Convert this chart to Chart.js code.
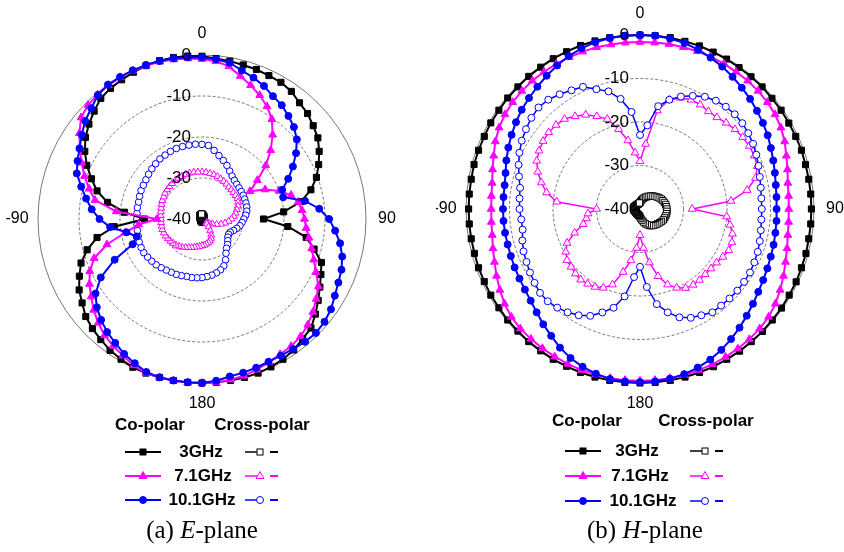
<!DOCTYPE html>
<html>
<head>
<meta charset="utf-8">
<script src="https://cdn.jsdelivr.net/npm/chart.js@4.4.0/dist/chart.umd.min.js"></script>
<style>
  body { margin: 0; background: #fff; width: 844px; height: 552px; position: relative; overflow: hidden;
         font-family: "Liberation Sans", Arial, sans-serif; }
  canvas { position: absolute; }
  #eChart { left: 0px; top: 25px; }
  #hChart { left: 436px; top: 5px; }
  #legendSvg { position: absolute; left: 0; top: 0; }
  .lbl { position: absolute; transform: translate(-50%, -50%); white-space: nowrap; font-weight: bold; font-size: 17px; color: #000; }
  .cap { position: absolute; transform: translate(-50%, -50%); white-space: nowrap; font-size: 25px;
         font-family: "Liberation Serif", "Times New Roman", serif; }
</style>
</head>
<body>
<canvas id="eChart" width="396" height="388"></canvas>
<canvas id="hChart" width="408" height="408"></canvas>
<svg id="legendSvg" width="844" height="552"></svg>

<div class="lbl" style="left:150px;top:425px">Co-polar</div>
<div class="lbl" style="left:262px;top:425px">Cross-polar</div>
<div class="lbl" style="left:201px;top:452px">3GHz</div>
<div class="lbl" style="left:203px;top:476px">7.1GHz</div>
<div class="lbl" style="left:202px;top:500px">10.1GHz</div>
<div class="cap" style="left:202px;top:530px">(a) <i>E</i>-plane</div>

<div class="lbl" style="left:587px;top:421px">Co-polar</div>
<div class="lbl" style="left:706px;top:421px">Cross-polar</div>
<div class="lbl" style="left:637px;top:451px">3GHz</div>
<div class="lbl" style="left:640px;top:476px">7.1GHz</div>
<div class="lbl" style="left:643px;top:501px">10.1GHz</div>
<div class="cap" style="left:645px;top:530px">(b) <i>H</i>-plane</div>

<script>
// Angles (degrees, clockwise from top), one point every 5 degrees
const angles = ['0','5','10','15','20','25','30','35','40','45','50','55','60','65','70','75','80','85',
  '90','95','100','105','110','115','120','125','130','135','140','145','150','155','160','165','170','175',
  '180','185','190','195','200','205','210','215','220','225','230','235','240','245','250','255','260','265',
  '270','275','280','285','290','295','300','305','310','315','320','325','330','335','340','345','350','355'];

const tickValues = [0, -10, -20, -30, -40];
const angleTexts = ['0', '90', '180', '-90'];
const angleTextAt = ['0', '90', '180', '270'];

// E-plane, co-polar (dB)
const e3Co = [-0.3,-0.7,-0.9,-1.1,-1.2,-1.4,-1.5,-2.0,-3.0,-3.6,-4.6,-5.5,-7.0,-8.6,-10.3,-12.5,-15.5,-20,
  -25,-19,-14.2,-11.7,-9.0,-8.0,-6.8,-5.4,-3.9,-2.4,-1.8,-1.0,-0.5,-0.2,0,0,0,0,
  0,0,0,0,0,-0.1,-0.5,-0.9,-1.6,-2.2,-3.0,-4.3,-5.4,-7.0,-8.6,-11,-14,-18.5,
  -26,-21,-16.6,-13.5,-11.3,-9.0,-7.0,-5.3,-4.0,-2.8,-1.6,-1.1,-0.8,-0.5,-0.2,0,0,-0.1];
const e7Co = [-1.0,-1.4,-2.2,-3.9,-5.3,-6.7,-8.3,-10.3,-13.2,-16.3,-19.7,-23.5,-26.5,-23,-20,-17.5,-16.2,-15.5,
  -15,-14.5,-13.5,-12.3,-11,-9.3,-7.2,-6.0,-4.7,-3.5,-2.6,-2.1,-1.9,-1.4,-0.9,-0.4,-0.2,0,
  0,0,0,0,0,-0.6,-1.5,-2.2,-3.0,-4.2,-5.5,-7.0,-8.3,-9.8,-12,-16,-21,-24.5,
  -29,-19,-13.5,-11.5,-9.5,-7.6,-5.6,-3.5,-1.5,-0.7,-0.4,-0.2,-0.1,-0.1,-0.2,-0.3,-0.5,-0.7];
const e10Co = [-0.6,-0.9,-1.3,-2.5,-3.3,-4.2,-5.4,-6.1,-7.2,-8.3,-9.8,-12,-14.4,-16.8,-19.2,-19.5,-14.5,-11.3,
  -9.0,-7.4,-5.8,-4.6,-3.8,-3.3,-2.6,-1.6,-1.0,-0.7,-0.9,-1.3,-1.5,-1.6,-1.4,-1.2,-1.0,-0.4,
  0,0,0,0,-0.3,-1.2,-2.0,-3.1,-4.0,-5.2,-6.5,-8.3,-11.5,-16.5,-22,-23.5,-21.3,-17.5,
  -15,-13,-11.3,-9.5,-7.5,-6.5,-5.5,-4.2,-2.8,-1.8,-0.5,0,0,0,0,-0.1,-0.2,-0.4];

// E-plane, cross-polar (dB)
const e3X = [-38.8,-38.9,-39.0,-39.0,-39.1,-39.2,-39.2,-39.3,-39.4,-39.4,-39.5,-39.5,-39.5,-39.6,-39.6,-39.6,-39.7,-39.7,
  -39.7,-39.7,-39.7,-39.7,-39.6,-39.6,-39.6,-39.5,-39.5,-39.5,-39.4,-39.4,-39.4,-39.3,-39.3,-39.3,-39.3,-39.3,
  -39.3,-39.3,-39.4,-39.4,-39.5,-39.5,-39.6,-39.6,-39.7,-39.7,-39.8,-39.8,-39.8,-39.8,-39.8,-39.8,-39.8,-39.8,
  -39.8,-39.8,-39.7,-39.7,-39.6,-39.6,-39.5,-39.5,-39.4,-39.3,-39.2,-39.1,-39.0,-39.0,-38.9,-38.9,-38.8,-38.8];
const e7X = [-28.5,-28.6,-28.7,-28.8,-29,-29.2,-29.4,-29.6,-29.8,-29.9,-30,-30,-30,-30.3,-30.7,-31.2,-31.7,-32.2,
  -32.8,-33.5,-34.3,-35.2,-36.2,-37.2,-38,-38.5,-38.6,-38.3,-37.5,-36.5,-35.5,-34.8,-34.3,-34,-33.8,-33.6,
  -33.5,-33.3,-33.1,-32.9,-32.6,-32.3,-32,-31.6,-31.3,-31,-30.8,-30.6,-30.4,-30.2,-30.1,-30,-30,-30,
  -30,-29.9,-29.8,-29.7,-29.5,-29.3,-29.2,-29,-28.9,-28.8,-28.7,-28.6,-28.5,-28.5,-28.4,-28.4,-28.4,-28.5];
const e10X = [-21.8,-22,-23,-24,-24.8,-25.6,-26.5,-27.2,-27.7,-28,-28.2,-28.3,-28.4,-28.5,-28.6,-28.7,-28.9,-29.3,
  -29.8,-30.2,-30.6,-31.2,-31.8,-32.4,-32.5,-32.3,-31.8,-31.2,-30.7,-29.8,-28.5,-27.4,-26.8,-26.4,-26.1,-25.9,
  -25.7,-25.6,-25.5,-25.5,-25.3,-25.1,-25,-24.8,-24.5,-24.2,-24,-23.8,-23.6,-23.6,-23.7,-23.9,-24,-24.1,
  -24.1,-24.1,-24,-24,-23.8,-23.6,-23.5,-23.3,-23,-22.7,-22.4,-22.1,-22,-21.8,-21.7,-21.7,-21.7,-21.7];

// H-plane, co-polar (dB)
const h3Co = [0,0,0,-0.1,-0.1,-0.2,-0.2,-0.3,-0.3,-0.3,-0.4,-0.4,-0.5,-0.5,-0.5,-0.6,-0.6,-0.6,
  -0.6,-0.6,-0.6,-0.5,-0.5,-0.4,-0.4,-0.3,-0.3,-0.2,-0.2,-0.1,-0.1,0,0,0,0,0,
  0,0,0,0,0,-0.1,-0.1,-0.2,-0.2,-0.3,-0.3,-0.4,-0.4,-0.5,-0.5,-0.6,-0.6,-0.6,
  -0.6,-0.6,-0.6,-0.5,-0.5,-0.5,-0.4,-0.4,-0.3,-0.3,-0.2,-0.2,-0.1,-0.1,0,0,0,0];
const h7Co = [-1.6,-1.6,-1.5,-1.5,-1.4,-1.4,-1.4,-1.5,-1.5,-1.6,-1.8,-2.1,-2.6,-3.3,-4.2,-4.9,-5.5,-5.7,
  -5.8,-5.7,-5.5,-5.0,-4.4,-3.6,-2.8,-2.0,-1.4,-1.1,-0.9,-0.8,-0.7,-0.6,-0.6,-0.5,-0.5,-0.5,
  -0.5,-0.5,-0.5,-0.6,-0.6,-0.7,-0.8,-0.9,-1.0,-1.1,-1.4,-2.0,-2.8,-3.6,-4.4,-5.0,-5.5,-5.7,
  -5.8,-5.7,-5.5,-4.9,-4.2,-3.3,-2.6,-2.1,-1.8,-1.6,-1.5,-1.5,-1.5,-1.5,-1.5,-1.5,-1.6,-1.6];
const h10Co = [0,0,-0.2,-0.5,-1.0,-1.6,-2.2,-2.9,-3.6,-4.2,-4.9,-5.5,-6.1,-6.8,-7.4,-7.9,-8.3,-8.5,
  -8.6,-8.5,-8.4,-8.2,-8.0,-7.7,-7.3,-6.8,-6.1,-5.3,-4.4,-3.5,-2.6,-1.8,-1.2,-0.7,-0.4,-0.2,
  -0.2,-0.2,-0.3,-0.8,-1.4,-2.2,-3.2,-4.4,-5.4,-6.4,-7.2,-7.7,-8.0,-8.2,-8.4,-8.5,-8.5,-8.5,
  -8.5,-8.5,-8.4,-8.0,-7.3,-6.6,-5.9,-5.2,-4.5,-3.9,-3.3,-2.6,-1.9,-1.2,-0.7,-0.3,-0.1,0];

// H-plane, cross-polar (dB)
const h3X = [-38.5,-38.2,-37.9,-37.6,-37.3,-37,-36.7,-36.4,-36.1,-35.8,-35.5,-35.2,-34.9,-34.6,-34.4,-34.2,-34,-33.9,
  -33.8,-33.8,-33.8,-33.9,-34,-34.1,-34.3,-34.5,-34.7,-34.9,-35.1,-35.3,-35.6,-36,-36.4,-36.9,-37.4,-37.8,
  -38.2,-38.4,-38.5,-38.6,-38.6,-38.7,-38.7,-38.7,-38.8,-38.8,-38.8,-38.8,-38.8,-38.8,-38.7,-38.7,-38.6,-38.6,
  -38.5,-38.5,-38.5,-38.5,-38.6,-38.6,-38.7,-38.7,-38.8,-38.8,-38.8,-38.8,-38.8,-38.8,-38.8,-38.7,-38.7,-38.6];
const h7X = [-29,-25,-17,-14,-12.8,-12.3,-12.3,-12.6,-12.5,-12,-11.5,-11.2,-11,-11,-11.3,-12.5,-15,-19,
  -28,-20,-19,-18,-17.5,-17.5,-18,-18.5,-18.7,-18.8,-18.7,-18.7,-19,-20,-21.5,-24,-27.5,-31,
  -34,-31,-28,-25,-21.5,-20,-19.3,-19,-18.8,-19,-19.3,-19.5,-20.3,-21.5,-24,-26.5,-27.5,-28,
  -30,-20.8,-18.2,-16.5,-15,-13.8,-13.2,-12.8,-12.6,-12.7,-13,-14,-15,-16.5,-18,-21,-24,-27];
const h10X = [-23,-20.7,-16,-14,-12.5,-11.3,-10.2,-9.6,-9.3,-9.2,-9.3,-9.6,-10,-10.5,-11,-11.5,-11.8,-12,
  -12,-12,-11.8,-11.5,-11.2,-11,-10.8,-10.8,-10.8,-10.9,-11,-11,-11.8,-12.4,-13.5,-15.4,-17.8,-22,
  -26.7,-24.3,-19.6,-16.5,-14.7,-12.9,-11.8,-11,-10.4,-10,-10,-10.4,-10.8,-11.2,-11.5,-12,-12.6,-12.6,
  -12.3,-12.2,-12,-11.2,-10.3,-9.4,-8.6,-8,-7.4,-7,-7.2,-7.8,-8.5,-9,-10.7,-12,-14.3,-17.6];

const BLACK = '#000000';
const MAGENTA = '#ff00ff';
const BLUE = '#0000ff';

// Style d'une courbe co-polaire (symbole plein)
function coSet(data, color, style, radius) {
    return {
        data: data, borderColor: color, backgroundColor: color, borderWidth: 2, fill: false,
        pointStyle: style, pointRadius: radius, pointBackgroundColor: color, pointBorderColor: color, pointBorderWidth: 1
    };
}

// Style d'une courbe cross-polaire (symbole vide)
function crossSet(data, color, style, radius) {
    return {
        data: data, borderColor: color, backgroundColor: color, borderWidth: 1.5, fill: false,
        pointStyle: style, pointRadius: radius, pointBackgroundColor: '#ffffff', pointBorderColor: color, pointBorderWidth: 1
    };
}

// Textes des cercles (dB) et des angles
const polarLabels = {
    id: 'polarLabels',
    afterDatasetsDraw(chart) {
        const r = chart.scales.r;
        const ctx = chart.ctx;
        ctx.save();
        ctx.fillStyle = '#000';
        ctx.font = '17px "Liberation Sans", Arial, sans-serif';
        ctx.textAlign = 'right';
        ctx.textBaseline = 'middle';
        tickValues.forEach(v => {
            ctx.fillText(String(v), r.xCenter - 11, r.yCenter - r.getDistanceFromCenterForValue(v));
        });
        ctx.font = '16px "Liberation Sans", Arial, sans-serif';
        ctx.textAlign = 'center';
        angleTexts.forEach((txt, i) => {
            const pos = r.getPointPosition(angles.indexOf(angleTextAt[i]), r.drawingArea + 21);
            ctx.fillText(txt, pos.x, pos.y);
        });
        ctx.restore();
    }
};

function makePolar(id, datasets, padding) {
    const ctx = document.getElementById(id).getContext('2d');
    return new Chart(ctx, {
        type: 'radar',
        data: { labels: angles, datasets: datasets },
        options: {
            responsive: false,
            animation: false,
            layout: { padding: padding },
            elements: { line: { tension: 0 } },
            plugins: { legend: { display: false }, tooltip: { enabled: false } },
            scales: {
                r: {
                    min: -40, max: 0,
                    ticks: { stepSize: 10, display: false },
                    angleLines: { display: false },
                    pointLabels: { display: false },
                    grid: { circular: true, color: '#555', lineWidth: 0.8 },
                    border: { dash: c => (c.tick && c.tick.value === 0) ? [] : [3, 2] }
                }
            }
        },
        plugins: [polarLabels]
    });
}

makePolar('eChart', [
    coSet(e10Co, BLUE, 'circle', 3.5),
    coSet(e7Co, MAGENTA, 'triangle', 4.5),
    coSet(e3Co, BLACK, 'rect', 4.3),
    crossSet(e10X, BLUE, 'circle', 3.3),
    crossSet(e7X, MAGENTA, 'triangle', 4),
    crossSet(e3X, BLACK, 'rect', 4.5)
], { left: 38, right: 30, top: 30, bottom: 30 });

makePolar('hChart', [
    coSet(h10Co, BLUE, 'circle', 3.5),
    coSet(h7Co, MAGENTA, 'triangle', 4.5),
    coSet(h3Co, BLACK, 'rect', 4.3),
    crossSet(h10X, BLUE, 'circle', 3.5),
    crossSet(h7X, MAGENTA, 'triangle', 4.5),
    crossSet(h3X, BLACK, 'rect', 4.5)
], 30);

// Symboles de la légende
const legendRows = [
    { color: BLACK, shape: 'rect' },
    { color: MAGENTA, shape: 'triangle' },
    { color: BLUE, shape: 'circle' }
];

function marker(shape, x, y, color, open) {
    const fill = open ? '#fff' : color;
    if (shape === 'rect') {
        return `<rect x="${x - 3}" y="${y - 3}" width="6" height="6" fill="${fill}" stroke="${color}" stroke-width="1"/>`;
    }
    if (shape === 'triangle') {
        return `<polygon points="${x},${y - 4.5} ${x + 4},${y + 2.5} ${x - 4},${y + 2.5}" fill="${fill}" stroke="${color}" stroke-width="1"/>`;
    }
    return `<circle cx="${x}" cy="${y}" r="3.5" fill="${fill}" stroke="${color}" stroke-width="1"/>`;
}

function drawLegend(coX, crossX, rowsY) {
    let svg = '';
    legendRows.forEach((row, i) => {
        const y = rowsY[i];
        svg += `<line x1="${coX - 18}" y1="${y}" x2="${coX + 18}" y2="${y}" stroke="${row.color}" stroke-width="2"/>`;
        svg += marker(row.shape, coX, y, row.color, false);
        svg += `<line x1="${crossX - 15}" y1="${y}" x2="${crossX}" y2="${y}" stroke="${row.color}" stroke-width="1.5"/>`;
        svg += marker(row.shape, crossX, y, row.color, true);
        svg += `<line x1="${crossX + 10}" y1="${y}" x2="${crossX + 18}" y2="${y}" stroke="${row.color}" stroke-width="2"/>`;
    });
    return svg;
}

document.getElementById('legendSvg').innerHTML =
    drawLegend(143, 260, [452, 476, 500]) + drawLegend(583, 705, [451, 476, 501]);
</script>
</body>
</html>
